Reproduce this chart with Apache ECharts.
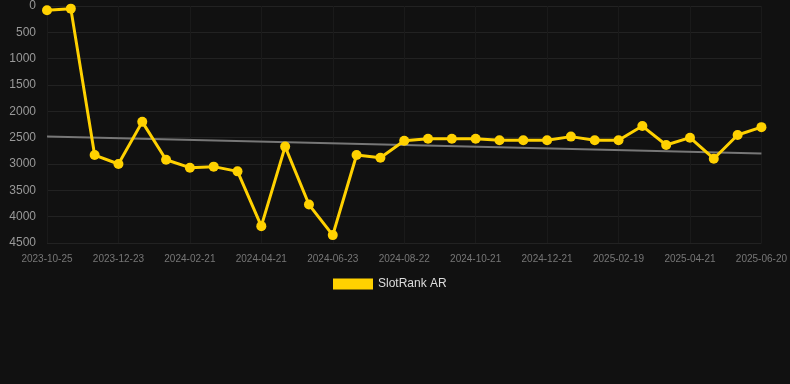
<!DOCTYPE html>
<html>
<head>
<meta charset="utf-8">
<script src="https://cdn.jsdelivr.net/npm/echarts@6/dist/echarts.min.js"></script>
<style>
	html, body { margin: 0; padding: 0; background: #111111; }
	#rankChart { width: 790px; height: 384px; }
</style>
</head>
<body>
<div id="rankChart"></div>
<script>
// dates on the x axis (every third one is labelled)
var dates = [
	'2023-10-25', '2023-11-14', '2023-12-04', '2023-12-23', '2024-01-12', '2024-02-01',
	'2024-02-21', '2024-03-12', '2024-04-01', '2024-04-21', '2024-05-12', '2024-06-02',
	'2024-06-23', '2024-07-13', '2024-08-02', '2024-08-22', '2024-09-11', '2024-10-01',
	'2024-10-21', '2024-11-10', '2024-11-30', '2024-12-21', '2025-01-10', '2025-01-30',
	'2025-02-19', '2025-03-11', '2025-03-31', '2025-04-21', '2025-05-11', '2025-05-31',
	'2025-06-20'
];
// rank values
var rankValues = [
	80, 50, 2830, 3000, 2200, 2920, 3070, 3050, 3140, 4180, 2670, 3770, 4350, 2830, 2880,
	2560, 2520, 2520, 2520, 2550, 2550, 2550, 2480, 2550, 2550, 2280, 2640, 2500, 2900,
	2450, 2300
];
// trend line end values (first and last date)
var trendValues = [2480, 2800];
var yTicks = [0, 4500, 500];

var rankChart = echarts.init(document.getElementById('rankChart'));

var optionRank = {
	backgroundColor : '#111111',
	animation : false,
	grid : {
		left : 47,
		right : 28,
		top : 6,
		bottom : 141
	},
	legend : {
		top : 273,
		left : 328,
		itemWidth : 40,
		itemHeight : 11,
		itemGap : 10,
		data : [ {
			name : 'SlotRank AR',
			icon : 'rect'
		} ],
		textStyle : {
			color : '#dddddd',
			fontSize : 12,
			fontFamily : 'Liberation Sans'
		}
	},
	xAxis : {
		type : 'category',
		boundaryGap : false,
		data : dates,
		axisLine : { show : false },
		axisTick : { show : false },
		axisLabel : {
			interval : 2,
			color : '#777777',
			fontSize : 10,
			fontFamily : 'Liberation Sans',
			margin : 11
		},
		splitLine : {
			show : true,
			interval : 2,
			lineStyle : { color : '#1a1a1a', width : 1 }
		}
	},
	yAxis : {
		type : 'value',
		inverse : true,
		min : yTicks[0],
		max : yTicks[1],
		interval : yTicks[2],
		axisLine : { show : false },
		axisTick : { show : false },
		axisLabel : {
			color : '#999999',
			fontSize : 12,
			fontFamily : 'Liberation Sans',
			margin : 11,
			formatter : function(v) { return String(v); }
		},
		splitLine : {
			lineStyle : { color : '#222222', width : 1 }
		}
	},
	series : [ {
		name : 'Trend',
		type : 'line',
		data : [ [ 0, trendValues[0] ], [ dates.length - 1, trendValues[1] ] ],
		symbol : 'none',
		silent : true,
		lineStyle : { color : '#777777', width : 2 },
		z : 1
	}, {
		name : 'SlotRank AR',
		type : 'line',
		data : rankValues,
		symbol : 'circle',
		symbolSize : 10,
		itemStyle : { color : '#ffd100' },
		lineStyle : { color : '#ffd100', width : 3 },
		z : 2
	} ]
};
rankChart.setOption(optionRank);
</script>
</body>
</html>
